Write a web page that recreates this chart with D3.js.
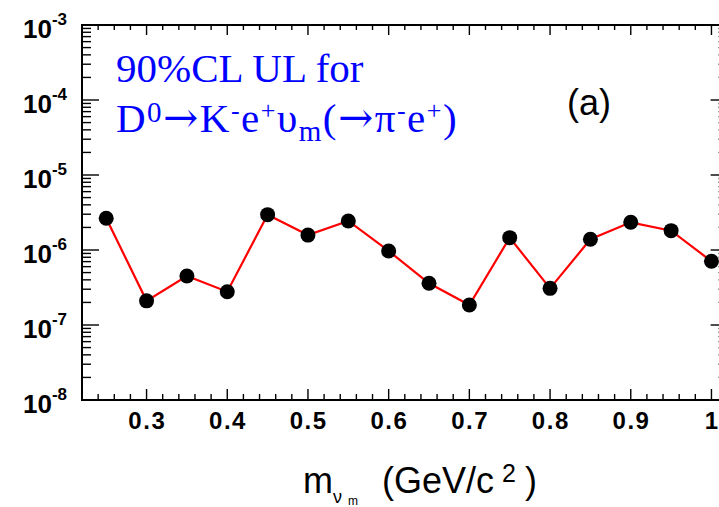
<!DOCTYPE html>
<html>
<head>
<meta charset="utf-8">
<script src="https://cdn.jsdelivr.net/npm/d3@7"></script>
<style>
  html, body { margin: 0; padding: 0; background: #fff; }
  svg { display: block; }
</style>
</head>
<body>
<svg id="chart" width="719" height="507"></svg>
<script>
// Neutrino mass hypotheses (GeV/c^2) and the 90% CL upper limits
const masses = [0.25, 0.30, 0.35, 0.40, 0.45, 0.50, 0.55, 0.60,
                0.65, 0.70, 0.75, 0.80, 0.85, 0.90, 0.95, 1.00];
const upperLimits = [2.65e-6, 2.1e-7, 4.5e-7, 2.78e-7, 2.96e-6, 1.58e-6, 2.44e-6, 9.7e-7,
                     3.6e-7, 1.85e-7, 1.46e-6, 3.08e-7, 1.39e-6, 2.34e-6, 1.81e-6, 7.07e-7];
const xMajorTicks = [0.3, 0.4, 0.5, 0.6, 0.7, 0.8, 0.9, 1.0];
const xTickLabels = ["0.3", "0.4", "0.5", "0.6", "0.7", "0.8", "0.9", "1"];
const yDecadeExponents = [-8, -7, -6, -5, -4, -3];

const svg = d3.select("#chart");
const frameLeft = 82, frameTop = 25, frameBottom = 400, frameRight = 727.6;

const x = d3.scaleLinear().domain([0.22, 1.02]).range([frameLeft, frameRight]);
const y = d3.scaleLog().domain([1e-8, 1e-3]).range([frameBottom, frameTop]);

// minor ticks every 0.02 on x, 2..9 within each decade on y
const xMinor = d3.range(11, 52).filter(i => i % 5 !== 0).map(i => i * 0.02);
const yMajor = yDecadeExponents.map(e => Math.pow(10, e));
const yMinor = [];
yDecadeExponents.slice(0, -1).forEach(e => {
  for (let k = 2; k <= 9; k++) yMinor.push(k * Math.pow(10, e));
});

const axes = svg.append("g").attr("stroke", "#000").attr("fill", "none");

// tick marks on all four sides, pointing into the frame
function ticks(values, fn) {
  axes.append("g").attr("stroke-width", 1.4)
    .selectAll("line").data(values).join("line").each(fn);
}
ticks(xMajorTicks, function (d) { d3.select(this).attr("x1", x(d)).attr("x2", x(d)).attr("y1", frameBottom).attr("y2", frameBottom - 11); });
ticks(xMinor, function (d) { d3.select(this).attr("x1", x(d)).attr("x2", x(d)).attr("y1", frameBottom).attr("y2", frameBottom - 6); });
ticks(xMajorTicks, function (d) { d3.select(this).attr("x1", x(d)).attr("x2", x(d)).attr("y1", frameTop).attr("y2", frameTop + 10); });
ticks(xMinor, function (d) { d3.select(this).attr("x1", x(d)).attr("x2", x(d)).attr("y1", frameTop).attr("y2", frameTop + 5); });
ticks(yMajor, function (d) { d3.select(this).attr("x1", frameLeft).attr("x2", frameLeft + 17).attr("y1", y(d)).attr("y2", y(d)); });
ticks(yMinor, function (d) { d3.select(this).attr("x1", frameLeft).attr("x2", frameLeft + 9).attr("y1", y(d)).attr("y2", y(d)); });
ticks(yMajor, function (d) { d3.select(this).attr("x1", frameRight).attr("x2", frameRight - 17).attr("y1", y(d)).attr("y2", y(d)); });
ticks(yMinor, function (d) { d3.select(this).attr("x1", frameRight).attr("x2", frameRight - 9).attr("y1", y(d)).attr("y2", y(d)); });

// frame
axes.append("path").attr("stroke-width", 2)
  .attr("d", `M${frameRight},${frameTop}H${frameLeft}V${frameBottom}H${frameRight}V${frameTop}`);

// x tick labels
svg.append("g")
  .attr("font-family", "Liberation Sans, Arial, sans-serif")
  .attr("font-weight", "bold").attr("font-size", 24)
  .attr("text-anchor", "middle").attr("letter-spacing", 1.5)
  .selectAll("text").data(xMajorTicks).join("text")
  .attr("x", d => x(d) + 0.75).attr("y", 429)
  .text((d, i) => xTickLabels[i]);

// y tick labels: 10 with a superscript exponent
const yLab = svg.append("g")
  .attr("font-family", "Liberation Sans, Arial, sans-serif")
  .attr("font-weight", "bold").attr("text-anchor", "end")
  .selectAll("text").data(yDecadeExponents).join("text")
  .attr("x", 67).attr("y", e => y(Math.pow(10, e)) + 13)
  .attr("font-size", 26);
yLab.append("tspan").text("10");
yLab.append("tspan").attr("font-size", 17).attr("dy", -13).text(e => String(e));

// limit curve and markers
svg.append("path")
  .datum(masses.map((m, i) => [m, upperLimits[i]]))
  .attr("fill", "none").attr("stroke", "#ff0000").attr("stroke-width", 2.2)
  .attr("d", d3.line().x(d => x(d[0])).y(d => y(d[1])));

svg.append("g").selectAll("circle")
  .data(masses.map((m, i) => [m, upperLimits[i]]))
  .join("circle")
  .attr("cx", d => x(d[0])).attr("cy", d => y(d[1]))
  .attr("r", 7.5).attr("fill", "#000");

// x axis title
const title = svg.append("text")
  .attr("font-family", "Liberation Sans, Arial, sans-serif")
  .attr("font-size", 36).attr("fill", "#000")
  .attr("x", 303).attr("y", 493);
title.append("tspan").text("m");
title.append("tspan").attr("x", 333).attr("dy", 10).attr("font-size", 18).text("ν");
title.append("tspan").attr("x", 348).attr("dy", 2).attr("font-size", 12).text("m");
title.append("tspan").attr("x", 382).attr("dy", -12).text("(GeV/c");
title.append("tspan").attr("x", 502).attr("dy", -11).attr("font-size", 25).text("2");
title.append("tspan").attr("x", 525).attr("dy", 11).text(")");

// annotation
const note = svg.append("g")
  .attr("font-family", "Liberation Serif, Times New Roman, serif")
  .attr("fill", "#0000ff").attr("font-size", 41);
note.append("text").attr("x", 116).attr("y", 82).text("90%CL UL for");
const decay = note.append("text").attr("x", 116).attr("y", 132).attr("letter-spacing", 1.5);
const arrowFont = "DejaVu Serif, serif";
decay.append("tspan").text("D");
decay.append("tspan").attr("font-size", 29).attr("dy", -10).text("0");
decay.append("tspan").attr("dy", 10).attr("font-family", arrowFont).attr("font-size", 42).text("→");
decay.append("tspan").text("K");
decay.append("tspan").attr("font-size", 26).attr("dy", -13).text("-");
decay.append("tspan").attr("dy", 13).text("e");
decay.append("tspan").attr("font-size", 26).attr("dy", -13).text("+");
decay.append("tspan").attr("dy", 13).text("υ");
decay.append("tspan").attr("font-size", 29).attr("dy", 9).text("m");
decay.append("tspan").attr("dy", -9).text("(");
decay.append("tspan").attr("font-family", arrowFont).attr("font-size", 42).text("→");
decay.append("tspan").text("π");
decay.append("tspan").attr("font-size", 26).attr("dy", -13).text("-");
decay.append("tspan").attr("dy", 13).text("e");
decay.append("tspan").attr("font-size", 26).attr("dy", -13).text("+");
decay.append("tspan").attr("dy", 13).text(")");

svg.append("text")
  .attr("font-family", "Liberation Sans, Arial, sans-serif")
  .attr("font-size", 36).attr("fill", "#000")
  .attr("x", 567).attr("y", 115).text("(a)");
</script>
</body>
</html>
